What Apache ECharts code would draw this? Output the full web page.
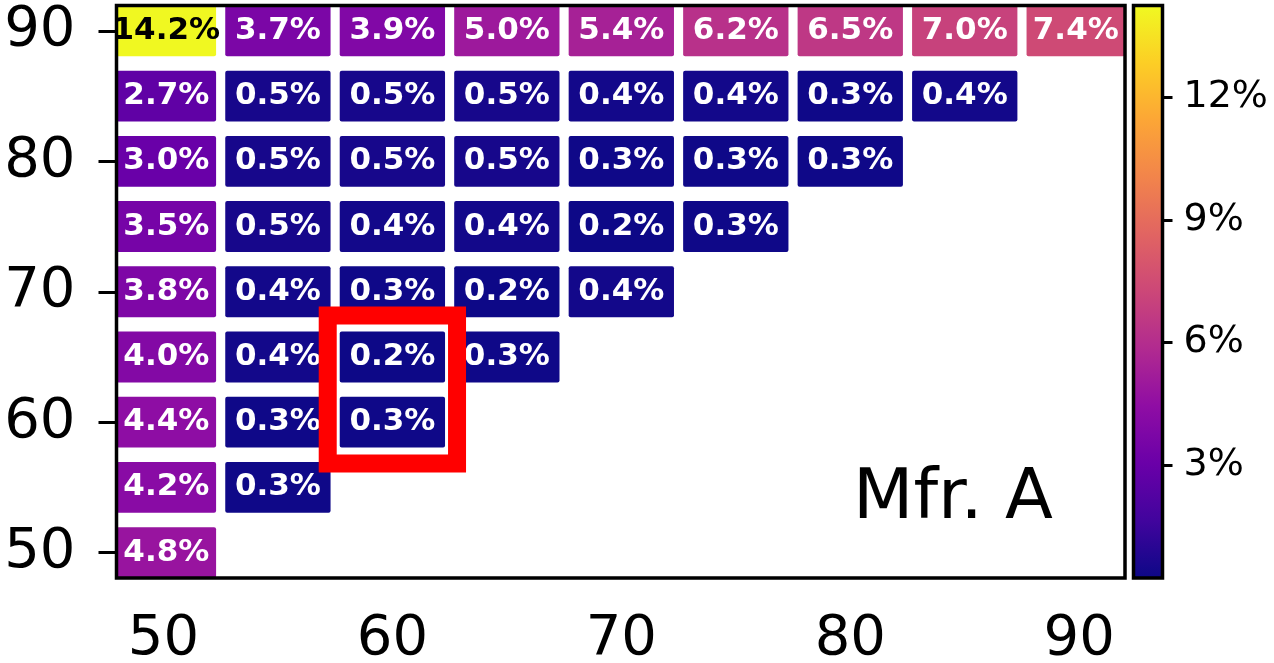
<!DOCTYPE html>
<html><head><meta charset="utf-8">
<script src="https://cdn.jsdelivr.net/npm/echarts@6/dist/echarts.min.js"></script>
<style>html,body{margin:0;padding:0;background:#fff}#c{width:1274px;height:663px}</style>
</head><body><div id="c"></div>
<script>
// ---- data ----
const xValues = [50, 55, 60, 65, 70, 75, 80, 85, 90];
const row90 = [14.2, 3.7, 3.9, 5.0, 5.4, 6.2, 6.5, 7.0, 7.4];
const row85 = [2.7, 0.5, 0.5, 0.5, 0.4, 0.4, 0.3, 0.4];
const row80 = [3.0, 0.5, 0.5, 0.5, 0.3, 0.3, 0.3];
const row75 = [3.5, 0.5, 0.4, 0.4, 0.2, 0.3];
const row70 = [3.8, 0.4, 0.3, 0.2, 0.4];
const row65 = [4.0, 0.4, 0.2, 0.3];
const row60 = [4.4, 0.3, 0.3];
const row55 = [4.2, 0.3];
const row50 = [4.8];
const rows = [[90, row90], [85, row85], [80, row80], [75, row75], [70, row70], [65, row65], [60, row60], [55, row55], [50, row50]];
const xTicks = [50, 60, 70, 80, 90];
const yTicks = [50, 60, 70, 80, 90];
const cbTicks = [3, 6, 9, 12];
const cbRange = [0.24, 14.24];
const highlightCells = [[60, 65], [60, 60]];
const panelLabel = 'Mfr. A';

// ---- styles ----
const FONT = 'DejaVu Sans';
const plasma = ['#0d0887', '#41049d', '#6a00a8', '#8f0da4', '#b12a90', '#cc4778', '#e16462', '#f2844b', '#fca636', '#fcce25', '#f0f921'];
const CELL_W = 4.6, CELL_H = 3.9;

const data = [];
rows.forEach(([y, vals]) => vals.forEach((v, i) => data.push([xValues[i], y, v])));

const chart = echarts.init(document.getElementById('c'), null, { renderer: 'canvas' });

function clipRect(x0, y0, x1, y1, cs) {
  const L = Math.max(x0, cs.x), R = Math.min(x1, cs.x + cs.width);
  const T = Math.max(y0, cs.y), B = Math.min(y1, cs.y + cs.height);
  return { x: L, y: T, width: Math.max(0, R - L), height: Math.max(0, B - T) };
}

const option = {
  animation: false,
  grid: [
    { left: 116.5, top: 5.5, width: 1008.5, height: 572.5, outerBoundsMode: 'none', containLabel: false, show: true, borderColor: '#000', borderWidth: 3.5, z: 5, backgroundColor: 'rgba(0,0,0,0)' },
    { left: 1133.5, top: 5.5, width: 29, height: 572.5, outerBoundsMode: 'none', containLabel: false, show: true, borderColor: '#000', borderWidth: 3.5, z: 5, backgroundColor: 'rgba(0,0,0,0)' }
  ],
  xAxis: [
    { gridIndex: 0, type: 'value', min: 47.95, max: 92, axisLine: { show: false, onZero: false }, axisTick: { show: false }, splitLine: { show: false },
      axisLabel: { customValues: xTicks, fontSize: 56, fontFamily: FONT, color: '#000', margin: 33 } },
    { gridIndex: 1, type: 'value', min: 0, max: 1, show: false }
  ],
  yAxis: [
    { gridIndex: 0, type: 'value', min: 48.05, max: 91.95, axisLine: { show: false, onZero: false }, splitLine: { show: false },
      axisTick: { show: true, customValues: yTicks, length: 18, lineStyle: { width: 3, color: '#000' } },
      axisLabel: { customValues: yTicks, fontSize: 56, fontFamily: FONT, color: '#000', margin: 41 } },
    { gridIndex: 1, type: 'value', position: 'right', min: cbRange[0], max: cbRange[1], z: 10,
      axisLine: { show: false, onZero: false }, splitLine: { show: false },
      axisTick: { show: true, inside: false, customValues: cbTicks, length: 10, lineStyle: { width: 3, color: '#000' } },
      axisLabel: { customValues: cbTicks, formatter: v => v + '%', fontSize: 38, fontFamily: FONT, color: '#000', margin: 21 } }
  ],
  visualMap: { show: false, type: 'continuous', min: cbRange[0], max: cbRange[1], dimension: 2, seriesIndex: 0, inRange: { color: plasma } },
  series: [
    {
      type: 'custom', xAxisIndex: 0, yAxisIndex: 0, clip: false, z: 2,
      data: data,
      renderItem: function (params, api) {
        const x = api.value(0), y = api.value(1), v = api.value(2);
        const c = api.coord([x, y]);
        const s = api.size([CELL_W, CELL_H]);
        const r = clipRect(c[0] - s[0] / 2, c[1] - s[1] / 2, c[0] + s[0] / 2, c[1] + s[1] / 2, params.coordSys);
        return {
          type: 'rect',
          shape: Object.assign(r, { r: 2 }),
          style: { fill: api.visual('color') },
          textContent: { style: { text: v.toFixed(1) + '%', fill: v > 10 ? '#000' : '#fff', fontSize: 31, fontWeight: 'bold', fontFamily: FONT } },
          textConfig: { position: 'inside' }
        };
      }
    },
    {
      type: 'custom', xAxisIndex: 0, yAxisIndex: 0, clip: false, z: 3,
      data: [0],
      renderItem: function (params, api) {
        let L = Infinity, R = -Infinity, T = Infinity, B = -Infinity;
        highlightCells.forEach(([x, y]) => {
          const c = api.coord([x, y]);
          const s = api.size([CELL_W, CELL_H]);
          L = Math.min(L, c[0] - s[0] / 2); R = Math.max(R, c[0] + s[0] / 2);
          T = Math.min(T, c[1] - s[1] / 2); B = Math.max(B, c[1] + s[1] / 2);
        });
        const px = 12, py = 16;
        return {
          type: 'rect',
          shape: { x: L - px, y: T - py, width: R - L + 2 * px, height: B - T + 2 * py },
          style: { fill: 'none', stroke: '#ff0000', lineWidth: 18 }
        };
      }
    },
    {
      type: 'custom', xAxisIndex: 1, yAxisIndex: 1, clip: false, z: 2,
      data: [0],
      renderItem: function (params, api) {
        const p0 = api.coord([0, cbRange[1]]);
        const p1 = api.coord([1, cbRange[0]]);
        const stops = plasma.map((col, i) => ({ offset: i / (plasma.length - 1), color: col }));
        return {
          type: 'rect',
          shape: { x: p0[0], y: p0[1], width: p1[0] - p0[0], height: p1[1] - p0[1] },
          style: { fill: new echarts.graphic.LinearGradient(0, 1, 0, 0, stops) }
        };
      }
    }
  ],
  graphic: [
    { type: 'text', x: 853, y: 500, z: 10, style: { text: panelLabel, fontSize: 70, fontFamily: FONT, fill: '#000', align: 'left', verticalAlign: 'middle' } }
  ]
};
chart.setOption(option);
</script>
</body></html>
